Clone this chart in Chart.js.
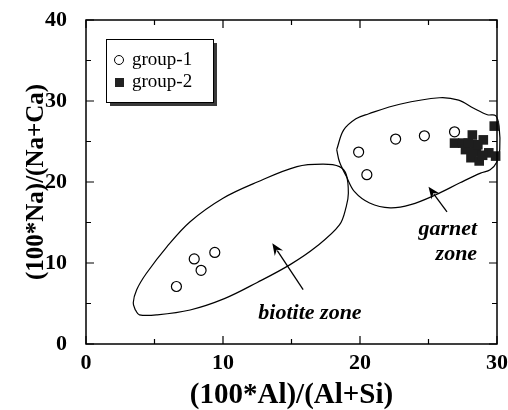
<!DOCTYPE html>
<html><head><meta charset="utf-8">
<script src="https://cdn.jsdelivr.net/npm/chart.js@4.4.0/dist/chart.umd.min.js"></script>
<style>html,body{margin:0;padding:0;background:#fff}#wrap{width:508px;height:410px}</style>
</head><body><div id="wrap"><canvas id="c" width="508" height="410"></canvas></div>
<script>
// ---- data ----
const xTickLabels = ['0', '10', '20', '30'];
const yTickLabels = ['0', '10', '20', '30', '40'];
const seriesNames = ['group-1', 'group-2'];
const xTitle = '(100*Al)/(Al+Si)';
const yTitle = '(100*Na)/(Na+Ca)';

const group1X = [6.6, 7.9, 8.4, 9.4, 19.9, 20.5, 22.6, 24.7, 26.9];
const group1Y = [7.1, 10.5, 9.1, 11.3, 23.7, 20.9, 25.3, 25.7, 26.2];

const group2X = [26.9, 27.5, 28.2, 29.0, 27.7, 28.5, 28.1, 28.7, 29.4, 29.8, 29.9, 28.3, 28.6, 27.9, 28.95];
const group2Y = [24.8, 24.8, 25.8, 25.2, 24.0, 24.3, 23.0, 22.6, 23.6, 26.9, 23.2, 23.7, 24.6, 24.8, 23.3];

const biotiteX = [3.6, 3.9, 5.2, 7.6, 10.1, 12.5, 14.9, 16.8, 18.5, 19.0, 19.15, 19.0, 18.5, 17.3, 15.4, 12.5, 10.0, 7.6, 5.9, 4.4, 3.7, 3.45, 3.6];
const biotiteY = [4.2, 3.6, 3.6, 4.2, 5.6, 7.6, 9.8, 12.0, 14.7, 17.0, 18.6, 20.9, 21.9, 22.2, 21.9, 20.0, 18.0, 15.1, 12.0, 8.7, 6.7, 5.1, 4.2];

const garnetX = [18.3, 18.8, 19.7, 20.6, 22.9, 25.8, 27.2, 28.3, 29.3, 29.9, 30.15, 30.2, 30.0, 29.5, 28.8, 27.3, 25.5, 23.7, 22.2, 20.7, 19.6, 19.0, 18.5, 18.3];
const garnetY = [24.0, 26.4, 27.8, 28.4, 29.6, 30.4, 30.1, 29.1, 28.3, 28.2, 26.9, 24.0, 22.5, 21.5, 21.1, 19.9, 18.4, 17.2, 16.8, 17.4, 18.8, 20.7, 22.5, 24.0];

const zoneLabels = ['biotite zone', 'garnet', 'zone'];
const zoneLabelX = [16.35, 28.55, 28.55];
const zoneLabelY = [3.1, 13.45, 10.4];
const arrowFromX = [15.85, 26.35];
const arrowFromY = [6.7, 16.3];
const arrowToX = [13.6, 25.0];
const arrowToY = [12.45, 19.4];

// ---- helpers ----
const pts = (xs, ys) => xs.map((x, i) => ({x: x, y: ys[i]}));
const SERIF = "'Liberation Serif', 'Times New Roman', serif";

const framePlugin = {
  id: 'frame',
  afterDraw(chart) {
    const {ctx, chartArea: a, scales: {x, y}} = chart;
    ctx.save();
    ctx.strokeStyle = '#000';
    ctx.lineWidth = 1.5;
    ctx.strokeRect(a.left, a.top, a.right - a.left, a.bottom - a.top);
    ctx.lineWidth = 1.2;
    ctx.beginPath();
    for (let v = 0; v <= 30; v += 5) {
      const px = x.getPixelForValue(v);
      const len = v % 10 === 0 ? 8 : 5;
      ctx.moveTo(px, a.bottom); ctx.lineTo(px, a.bottom - len);
      ctx.moveTo(px, a.top); ctx.lineTo(px, a.top + len);
    }
    for (let v = 0; v <= 40; v += 5) {
      const py = y.getPixelForValue(v);
      const len = v % 10 === 0 ? 8 : 5;
      ctx.moveTo(a.left, py); ctx.lineTo(a.left + len, py);
      ctx.moveTo(a.right, py); ctx.lineTo(a.right - len, py);
    }
    ctx.stroke();

    // zone labels
    ctx.fillStyle = '#000';
    ctx.font = "italic bold 22px " + SERIF;
    ctx.textBaseline = 'alphabetic';
    zoneLabels.forEach((t, i) => {
      ctx.textAlign = i === 0 ? 'center' : 'right';
      ctx.fillText(t, x.getPixelForValue(zoneLabelX[i]), y.getPixelForValue(zoneLabelY[i]));
    });

    // arrows
    ctx.lineWidth = 1.3;
    arrowFromX.forEach((fx, i) => {
      const x0 = x.getPixelForValue(fx), y0 = y.getPixelForValue(arrowFromY[i]);
      const x1 = x.getPixelForValue(arrowToX[i]), y1 = y.getPixelForValue(arrowToY[i]);
      const ang = Math.atan2(y1 - y0, x1 - x0);
      const hl = 12, hw = 5;
      const bx = x1 - hl * Math.cos(ang), by = y1 - hl * Math.sin(ang);
      ctx.beginPath();
      ctx.moveTo(x0, y0); ctx.lineTo(bx + 3 * Math.cos(ang), by + 3 * Math.sin(ang));
      ctx.stroke();
      ctx.beginPath();
      ctx.moveTo(x1, y1);
      ctx.lineTo(bx + hw * Math.sin(ang), by - hw * Math.cos(ang));
      ctx.lineTo(x1 - (hl - 4) * Math.cos(ang), y1 - (hl - 4) * Math.sin(ang));
      ctx.lineTo(bx - hw * Math.sin(ang), by + hw * Math.cos(ang));
      ctx.closePath();
      ctx.fill();
    });

    // legend
    const L = a.left + 20, T = a.top + 19, W = 107, H = 63;
    ctx.fillStyle = '#3a3a3a';
    ctx.fillRect(L + 4, T + 4, W, H);
    ctx.fillStyle = '#fff';
    ctx.fillRect(L, T, W, H);
    ctx.strokeStyle = '#000';
    ctx.lineWidth = 1;
    ctx.strokeRect(L + 0.5, T + 0.5, W, H);
    ctx.beginPath();
    ctx.arc(L + 13, T + 21, 4.5, 0, Math.PI * 2);
    ctx.fillStyle = '#fff'; ctx.fill(); ctx.stroke();
    ctx.fillStyle = '#222';
    ctx.fillRect(L + 9, T + 39, 9, 9);
    ctx.fillStyle = '#000';
    ctx.font = "19px " + SERIF;
    ctx.textAlign = 'left';
    ctx.textBaseline = 'middle';
    ctx.fillText(seriesNames[0], L + 26, T + 21);
    ctx.fillText(seriesNames[1], L + 26, T + 43);
    ctx.restore();
  }
};

new Chart(document.getElementById('c'), {
  type: 'scatter',
  data: {
    datasets: [
      {label: seriesNames[0], data: pts(group1X, group1Y), pointStyle: 'circle', pointRadius: 5,
       backgroundColor: '#fff', borderColor: '#000', borderWidth: 1.2, order: 0},
      {label: seriesNames[1], data: pts(group2X, group2Y), pointStyle: 'rect', pointRadius: 6.8,
       backgroundColor: '#1e1e1e', borderColor: '#1e1e1e', borderWidth: 0, order: 1, clip: 8},
      {label: 'biotite zone', data: pts(biotiteX, biotiteY), showLine: true, pointRadius: 0,
       borderColor: '#000', borderWidth: 1.2, tension: 0.35, fill: false, order: 2},
      {label: 'garnet zone', data: pts(garnetX, garnetY), showLine: true, pointRadius: 0,
       borderColor: '#000', borderWidth: 1.2, tension: 0.35, fill: false, order: 3, clip: 8}
    ]
  },
  options: {
    responsive: false,
    animation: false,
    events: [],
    layout: {padding: {left: 0, right: 11, top: 20, bottom: 0}},
    plugins: {legend: {display: false}, tooltip: {enabled: false}},
    scales: {
      x: {
        type: 'linear', min: 0, max: 30,
        grid: {display: false}, border: {display: false},
        afterFit: s => { s.height = 66; s.paddingLeft = 0; s.paddingRight = 0; },
        ticks: {stepSize: 10, padding: -2, color: '#000', maxRotation: 0,
                font: {family: SERIF, size: 22, weight: 'bold'},
                callback: (v, i) => xTickLabels[i]},
        title: {display: true, text: xTitle, color: '#000', padding: {top: 0, bottom: 0},
                font: {family: SERIF, size: 29, weight: 'bold', lineHeight: 1.0}}
      },
      y: {
        type: 'linear', min: 0, max: 40,
        grid: {display: false}, border: {display: false},
        afterFit: s => { s.width = 86; s.paddingTop = 0; s.paddingBottom = 0; },
        ticks: {stepSize: 10, padding: 11, color: '#000',
                font: {family: SERIF, size: 22, weight: 'bold'},
                callback: (v, i) => yTickLabels[i]},
        title: {display: true, text: yTitle, color: '#000', padding: {top: 22, bottom: 0},
                font: {family: SERIF, size: 25, weight: 'bold', lineHeight: 1.2}}
      }
    }
  },
  plugins: [framePlugin]
});
</script>
</body></html>
